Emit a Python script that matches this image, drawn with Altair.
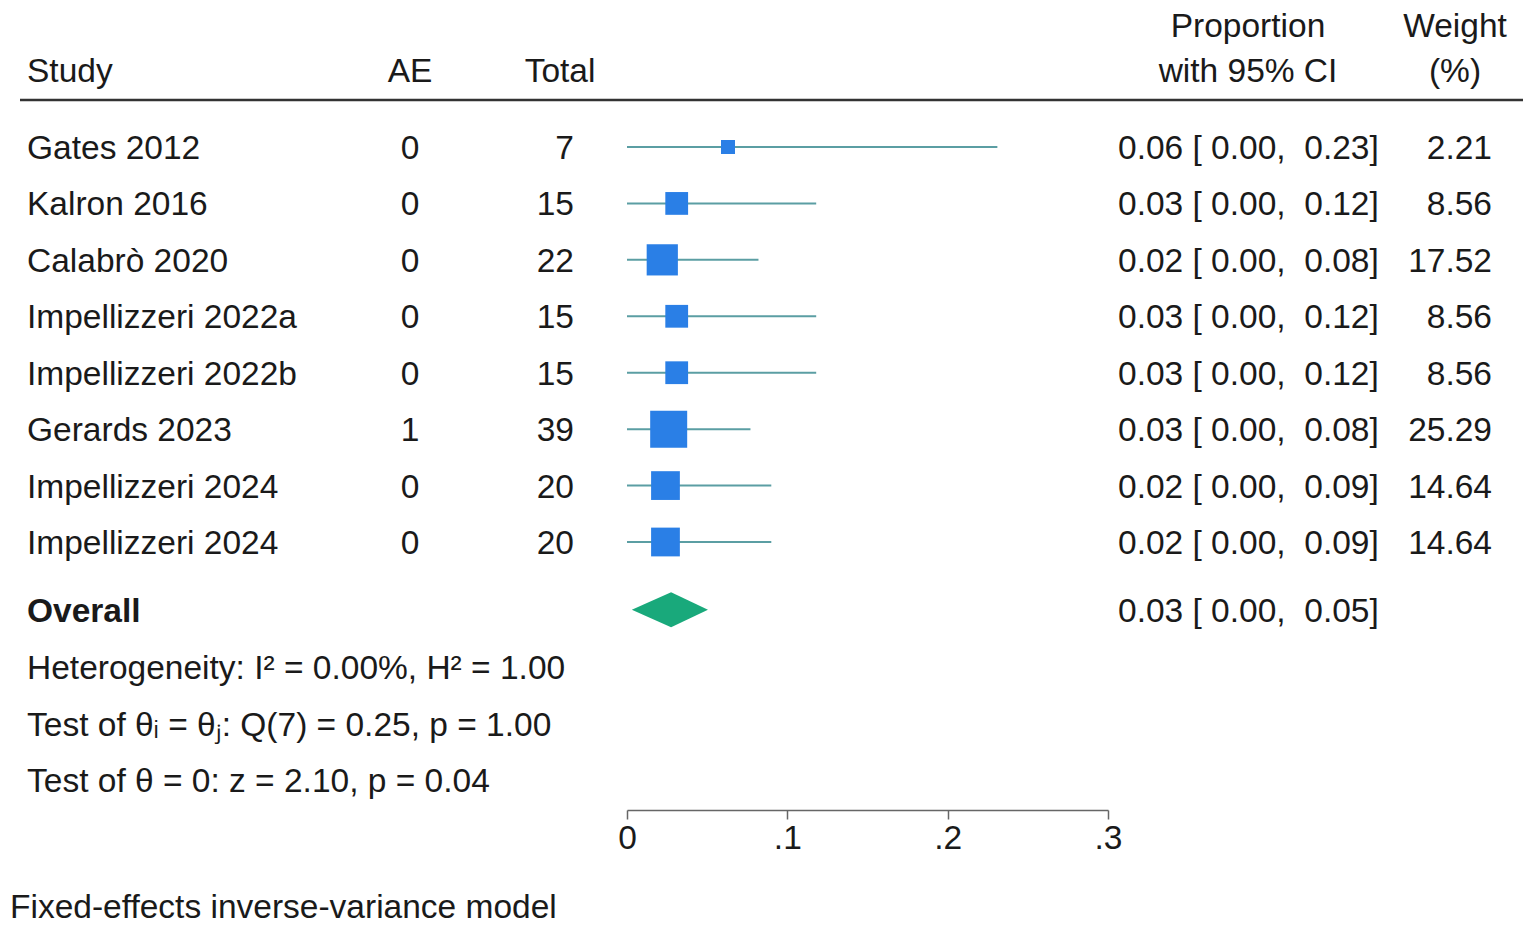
import altair as alt
import pandas as pd

# ---------------- data ----------------
studies = ["Gates 2012", "Kalron 2016", "Calabrò 2020", "Impellizzeri 2022a",
           "Impellizzeri 2022b", "Gerards 2023", "Impellizzeri 2024", "Impellizzeri 2024"]
ae = [0, 0, 0, 0, 0, 1, 0, 0]
total = [7, 15, 22, 15, 15, 39, 20, 20]
est = [0.063, 0.031, 0.022, 0.031, 0.031, 0.026, 0.024, 0.024]
ci_lo = [0.0, 0.0, 0.0, 0.0, 0.0, 0.0, 0.0, 0.0]
ci_hi = [0.231, 0.118, 0.082, 0.118, 0.118, 0.077, 0.090, 0.090]
ci_text = ["0.06 [ 0.00,\u00a0 0.23]", "0.03 [ 0.00,\u00a0 0.12]", "0.02 [ 0.00,\u00a0 0.08]",
           "0.03 [ 0.00,\u00a0 0.12]", "0.03 [ 0.00,\u00a0 0.12]", "0.03 [ 0.00,\u00a0 0.08]",
           "0.02 [ 0.00,\u00a0 0.09]", "0.02 [ 0.00,\u00a0 0.09]"]
weights = [2.21, 8.56, 17.52, 8.56, 8.56, 25.29, 14.64, 14.64]
weight_text = ["2.21", "8.56", "17.52", "8.56", "8.56", "25.29", "14.64", "14.64"]

overall_est = 0.0275
overall_lo = 0.003
overall_hi = 0.0505
overall_text = "0.03 [ 0.00,\u00a0 0.05]"

stats_lines = ["Heterogeneity: I² = 0.00%, H² = 1.00",
               "Test of θᵢ = θⱼ: Q(7) = 0.25, p = 1.00",
               "Test of θ = 0: z = 2.10, p = 0.04"]
footnote = "Fixed-effects inverse-variance model"
x_ticks = [0, 0.1, 0.2, 0.3]

# row positions (row index units)
rows = list(range(len(studies)))
r_overall = 8.2
r_stats = [9.22, 10.22, 11.22]
r_head1 = -2.16
r_head2 = -1.36
r_line = -0.833
r_foot = 13.45

FONT = "Liberation Sans"
FS = 33.5
TXT = "#1a1a1a"
DY = 12

xscale = alt.Scale(domain=[0, 0.3], range=[619, 1100], nice=False, zero=False)
yscale = alt.Scale(domain=[0, 7], range=[139, 534], nice=False, zero=False)

df = pd.DataFrame({"study": studies, "ae": [str(a) for a in ae], "total": [str(t) for t in total],
                   "est": est, "lo": ci_lo, "hi": ci_hi, "ci": ci_text,
                   "w": weights, "wt": weight_text, "r": rows})

base = alt.Chart(df)

rules = base.mark_rule(color="#5b9ea3", strokeWidth=2).encode(
    x=alt.X("lo:Q", scale=xscale,
            axis=alt.Axis(values=x_ticks, grid=False, title=None,
                          labelExpr="datum.value == 0 ? '0' : replace(format(datum.value, '.1f'), '0.', '.')",
                          domainColor="#666", tickColor="#666", tickSize=9, domainWidth=1.5, tickWidth=1.5,
                          labelFontSize=FS, labelFont=FONT, labelColor=TXT, labelPadding=3,
                          labelFlush=False, labelOverlap=False, labelBound=False)),
    x2="hi:Q",
    y=alt.Y("r:Q", scale=yscale, axis=None),
)

squares = base.mark_square(color="#2a7fe6", opacity=1, filled=True).encode(
    x=alt.X("est:Q", scale=xscale),
    y=alt.Y("r:Q", scale=yscale, axis=None),
    size=alt.Size("w:Q", scale=alt.Scale(domain=[2.21, 25.29], range=[196, 1369]), legend=None),
)

dh = 0.31
diamond_df = pd.DataFrame({
    "x": [overall_lo, overall_est, overall_hi],
    "y": [r_overall, r_overall - dh, r_overall],
    "y2": [r_overall, r_overall + dh, r_overall],
})
diamond = alt.Chart(diamond_df).mark_area(color="#19a97b", opacity=1, interpolate="linear").encode(
    x=alt.X("x:Q", scale=xscale),
    y=alt.Y("y:Q", scale=yscale, axis=None),
    y2="y2:Q",
)


def text_layer(data, field, xpx, align, bold=False):
    return alt.Chart(data).mark_text(
        align=align, baseline="alphabetic", dy=DY, font=FONT, fontSize=FS,
        color=TXT, fontWeight="bold" if bold else "normal"
    ).encode(
        x=alt.value(xpx),
        y=alt.Y("r:Q", scale=yscale, axis=None),
        text=f"{field}:N",
    )


t_study = text_layer(df, "study", 19, "left")
t_ae = text_layer(df, "ae", 402, "center")
t_total = text_layer(df, "total", 566, "right")
t_ci = text_layer(df, "ci", 1110, "left")
t_w = text_layer(df, "wt", 1484, "right")

hdr = pd.DataFrame({"label": ["Study", "AE", "Total", "Proportion", "with 95% CI", "Weight", "(%)"],
                    "r": [r_head2, r_head2, r_head2, r_head1, r_head2, r_head1, r_head2],
                    "xp": [19, 402, 552, 1240, 1240, 1447, 1447],
                    "al": ["left", "center", "center", "center", "center", "center", "center"]})
hdr_layers = []
for _, row in hdr.iterrows():
    hdr_layers.append(text_layer(pd.DataFrame({"label": [row["label"]], "r": [row["r"]]}),
                                 "label", int(row["xp"]), row["al"]))

ov_df = pd.DataFrame({"label": ["Overall"], "ci": [overall_text], "r": [r_overall]})
t_ov = text_layer(ov_df, "label", 19, "left", bold=True)
t_ov_ci = text_layer(ov_df, "ci", 1110, "left")

st_df = pd.DataFrame({"label": stats_lines, "r": r_stats})
t_stats = text_layer(st_df, "label", 19, "left")

ft_df = pd.DataFrame({"label": [footnote], "r": [r_foot]})
t_foot = text_layer(ft_df, "label", 2, "left")

line_df = pd.DataFrame({"r": [r_line]})
hline = alt.Chart(line_df).mark_rule(color="#333333", strokeWidth=2.5).encode(
    x=alt.value(12), x2=alt.value(1515),
    y=alt.Y("r:Q", scale=yscale, axis=None),
)

chart = alt.layer(
    rules, squares, diamond, hline,
    t_study, t_ae, t_total, t_ci, t_w, *hdr_layers, t_ov, t_ov_ci, t_stats, t_foot
).properties(
    width=1519, height=802,
    autosize=alt.AutoSizeParams(type="none"),
    padding={"left": 0, "top": 0, "right": 0, "bottom": 122},
    background="white",
).configure_view(stroke=None)

chart.save("out.html", embed_options={"renderer": "svg", "actions": False})
